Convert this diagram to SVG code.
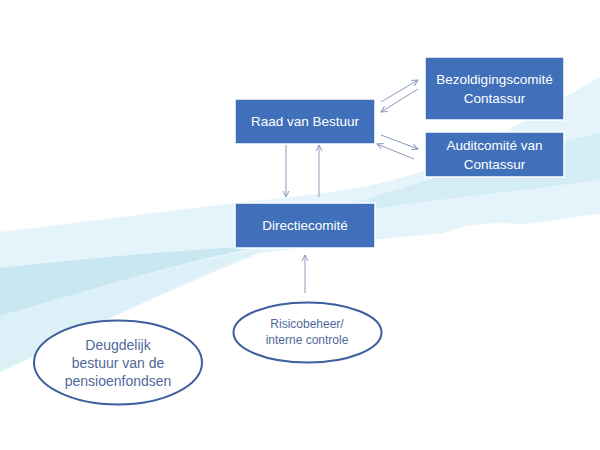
<svg xmlns="http://www.w3.org/2000/svg" width="600" height="450" viewBox="0 0 600 450">
<style>
.box{fill:#4070b9;stroke:#ffffff;stroke-width:1.5}
.bt{font-family:"Liberation Sans",Arial,sans-serif;font-size:13.5px;fill:#ffffff;text-anchor:middle}
.ell{fill:#ffffff;stroke:#3d5f9e;stroke-width:2}
.et{font-family:"Liberation Sans",Arial,sans-serif;fill:#51699a;text-anchor:middle}
.con{stroke:#8a9abb;stroke-width:1;fill:none;marker-end:url(#ah)}
</style>
<defs>
<marker id="ah" markerWidth="8" markerHeight="8" refX="7" refY="4" orient="auto" markerUnits="userSpaceOnUse">
<path d="M1,1 L7,4 L1,7" fill="none" stroke="#8a9abb" stroke-width="1"/>
</marker>
</defs>
<rect width="600" height="450" fill="#ffffff"/>
<g id="background">
<path d="M0,232 L235,203 C300,196 360,192 420,172 C480,150 540,110 600,77 L600,214 C560,218 520,226 480,230 C440,234 410,236 390,238 L260,253 C170,290 80,330 0,372 Z" fill="#e5f4fa"/>
<path d="M600,133 L600,180 C540,188 470,196 400,205 L300,220 C380,196 480,160 600,133 Z" fill="#d3ecf5"/>
<path d="M0,268 C90,258 180,250 262,246 C180,262 90,290 0,316 Z" fill="#c8e7f1"/>
<path d="M0,316 C90,290 180,262 262,250 C170,285 90,330 0,372 Z" fill="#dcf0f7"/>
<ellipse cx="500" cy="255" rx="77" ry="32" fill="#ffffff" stroke="#fbf7ea" stroke-width="1" stroke-dasharray="2,2"/>
</g>
<g id="connectors">
<line class="con" x1="286" y1="145" x2="286" y2="197"/>
<line class="con" x1="319" y1="197" x2="319" y2="145"/>
<line class="con" x1="381" y1="102" x2="418" y2="80"/>
<line class="con" x1="418" y1="89" x2="381" y2="112"/>
<line class="con" x1="381" y1="135" x2="418" y2="149"/>
<line class="con" x1="414" y1="159" x2="377" y2="144"/>
<line class="con" x1="305" y1="293" x2="305" y2="255"/>
</g>
<g id="raad">
<rect class="box" x="235" y="99" width="140" height="45"/>
<text class="bt" x="305" y="126">Raad van Bestuur</text>
</g>
<g id="bezoldigingscomite">
<rect class="box" x="425" y="57" width="139" height="63"/>
<text class="bt" x="494.5" y="84">Bezoldigingscomité</text>
<text class="bt" x="494.5" y="103">Contassur</text>
</g>
<g id="auditcomite">
<rect class="box" x="425" y="132" width="139" height="45"/>
<text class="bt" x="494.5" y="150">Auditcomité van</text>
<text class="bt" x="494.5" y="169">Contassur</text>
</g>
<g id="directiecomite">
<rect class="box" x="235" y="203" width="140" height="45"/>
<text class="bt" x="305" y="230">Directiecomité</text>
</g>
<g id="risicobeheer">
<ellipse class="ell" cx="307.5" cy="332.5" rx="74" ry="30"/>
<text class="et" x="307" y="328" font-size="12">Risicobeheer/</text>
<text class="et" x="307" y="344" font-size="12">interne controle</text>
</g>
<g id="deugdelijk">
<ellipse class="ell" cx="118" cy="362.5" rx="84" ry="42"/>
<text class="et" x="118" y="350" font-size="14">Deugdelijk</text>
<text class="et" x="118" y="368" font-size="14">bestuur van de</text>
<text class="et" x="118" y="386" font-size="14">pensioenfondsen</text>
</g>
</svg>
